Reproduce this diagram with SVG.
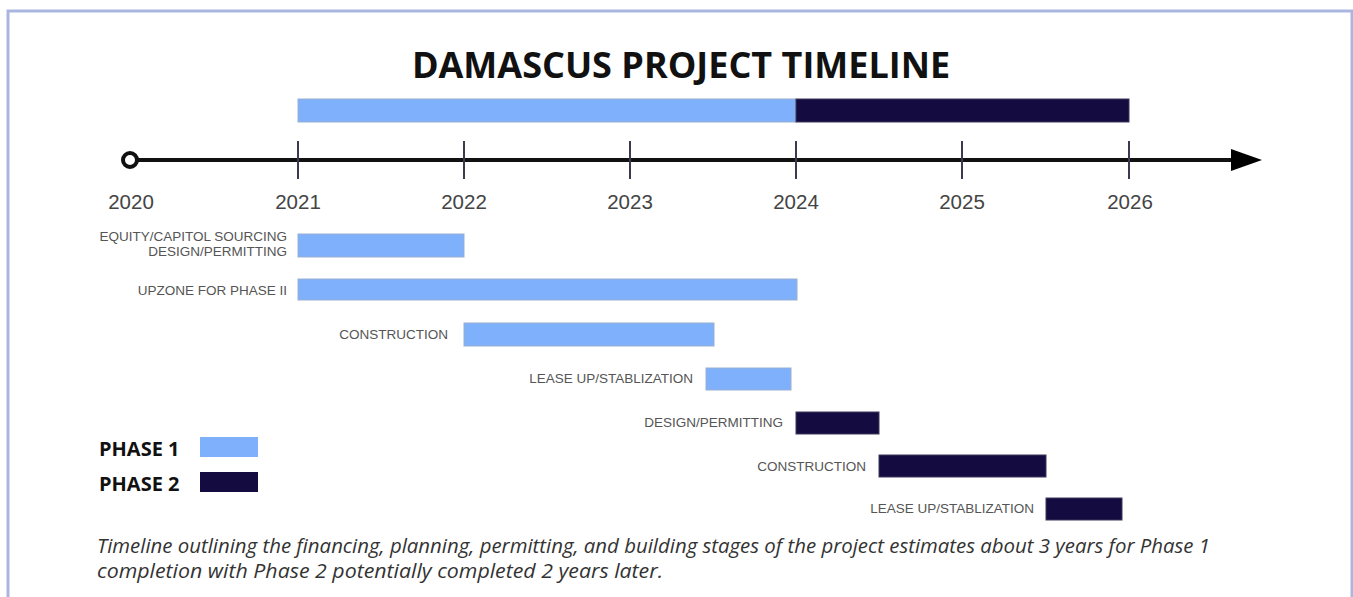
<svg xmlns="http://www.w3.org/2000/svg" width="1353" height="597" viewBox="0 0 1353 597">
<defs>
<style>
.year{font-family:"Liberation Sans",Arial,sans-serif;font-size:20.5px;fill:#444;text-anchor:middle}
.lbl{font-family:"Liberation Sans",Arial,sans-serif;font-size:13.5px;fill:#555;text-anchor:end}
.p1{fill:#7fb0fb;stroke:#9ab0d0;stroke-width:1}
.p2{fill:#140c40;stroke:#3a3a5a;stroke-width:1}
.tick{stroke:#3a3a50;stroke-width:2}
.leg{font-family:"Open Sans",sans-serif;font-size:20px;font-weight:bold;fill:#111}
</style>
</defs>
<rect width="1353" height="597" fill="#fff"/>
<path d="M8,597 V11 H1352 V597" fill="none" stroke="#aab6e0" stroke-width="3"/>
<text x="681" y="78" font-family="'Open Sans',sans-serif" font-size="36" font-weight="bold" fill="#111" text-anchor="middle">DAMASCUS PROJECT TIMELINE</text>
<g id="overall">
<rect x="298" y="99" width="498" height="23" class="p1"/>
<rect x="796" y="99" width="333" height="23" class="p2"/>
</g>
<g id="connectors">
<line x1="137" y1="160" x2="1234" y2="160" stroke="#111" stroke-width="4"/>
<polygon points="1231,149 1262,160 1231,171" fill="#000"/>
<circle cx="130" cy="160" r="7" fill="#fff" stroke="#111" stroke-width="4"/>
<line x1="298" y1="141" x2="298" y2="179" class="tick"/>
<line x1="464" y1="141" x2="464" y2="179" class="tick"/>
<line x1="630" y1="141" x2="630" y2="179" class="tick"/>
<line x1="796" y1="141" x2="796" y2="179" class="tick"/>
<line x1="962" y1="141" x2="962" y2="179" class="tick"/>
<line x1="1129" y1="141" x2="1129" y2="179" class="tick"/>
</g>
<g id="years">
<text x="131" y="209" class="year">2020</text>
<text x="298" y="209" class="year">2021</text>
<text x="464" y="209" class="year">2022</text>
<text x="630" y="209" class="year">2023</text>
<text x="796" y="209" class="year">2024</text>
<text x="962" y="209" class="year">2025</text>
<text x="1130" y="209" class="year">2026</text>
</g>
<g id="task-equity">
<rect x="298" y="234" width="166" height="23" class="p1"/>
<text x="287" y="241" class="lbl">EQUITY/CAPITOL SOURCING</text>
<text x="287" y="256" class="lbl">DESIGN/PERMITTING</text>
</g>
<g id="task-upzone">
<rect x="298" y="279" width="499" height="21" class="p1"/>
<text x="287" y="295" class="lbl">UPZONE FOR PHASE II</text>
</g>
<g id="task-construction1">
<rect x="464" y="323" width="250" height="23" class="p1"/>
<text x="448" y="339" class="lbl">CONSTRUCTION</text>
</g>
<g id="task-lease1">
<rect x="706" y="368" width="85" height="22" class="p1"/>
<text x="693" y="383" class="lbl">LEASE UP/STABLIZATION</text>
</g>
<g id="task-design2">
<rect x="796" y="412" width="83" height="22" class="p2"/>
<text x="783" y="427" class="lbl">DESIGN/PERMITTING</text>
</g>
<g id="task-construction2">
<rect x="879" y="455" width="167" height="22" class="p2"/>
<text x="866" y="471" class="lbl">CONSTRUCTION</text>
</g>
<g id="task-lease2">
<rect x="1046" y="498" width="76" height="22" class="p2"/>
<text x="1034" y="513" class="lbl">LEASE UP/STABLIZATION</text>
</g>
<g id="legend">
<text x="99" y="456" class="leg">PHASE 1</text>
<rect x="200" y="437" width="58" height="20" fill="#7fb0fb"/>
<text x="99" y="491" class="leg">PHASE 2</text>
<rect x="200" y="472" width="58" height="20" fill="#140c40"/>
</g>
<g id="caption" font-family="'Open Sans',sans-serif" font-size="20" font-style="italic" fill="#333">
<text x="97" y="553" textLength="1113" lengthAdjust="spacingAndGlyphs">Timeline outlining the financing, planning, permitting, and building stages of the project estimates about 3 years for Phase 1</text>
<text x="97" y="578" textLength="566" lengthAdjust="spacingAndGlyphs">completion with Phase 2 potentially completed 2 years later.</text>
</g>
</svg>
